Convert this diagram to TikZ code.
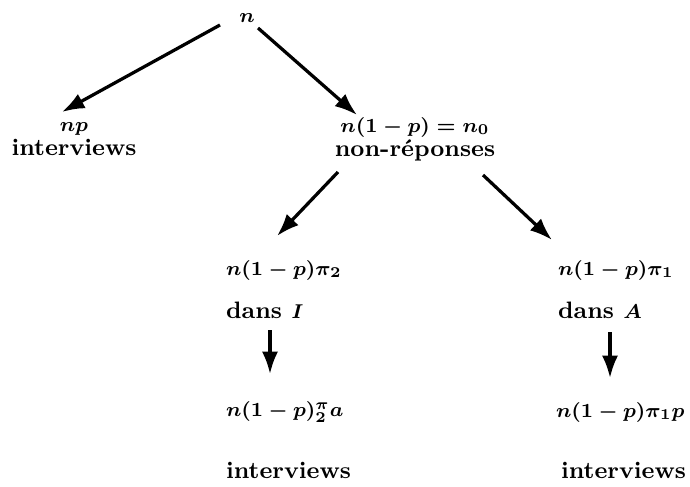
\documentclass[tikz,border=0pt]{standalone}
\usepackage{fontspec}
\setmainfont{Latin Modern Roman}
\usetikzlibrary{arrows.meta}
\newcommand{\fm}[1]{{\fontsize{8.1}{9.6}\selectfont\boldmath$#1$}}
\begin{document}
\begin{tikzpicture}[x=0.4pt, y=-0.4pt, thick,
	lbl/.style = {inner sep=0pt, font=\fontsize{9.5}{9.6}\selectfont\bfseries},
	left/.style = {lbl, anchor=west},
	arr/.style = {line width=1.3pt, -{Latex[length=9pt,width=6.5pt]}}]

			\useasboundingbox (0,0) rectangle (690,486);

			\node[lbl] (n) at (247,18) {\fm{n}};
			\node[lbl, align=center] (np) at (74,139) {\fm{np}\\interviews};
			\node[lbl, align=center] (nr) at (415,139) {\fm{n(1-p)=n_0}\\non-réponses};

			\node[left] (p2) at (225,270) {\fm{n(1-p)\pi_2}};
			\node[left] (dI) at (225,310) {dans \fm{I}};
			\node[left] (a2) at (225,412) {\fm{n(1-p)^\pi_2 a}};
			\node[left] (i2) at (225,470) {interviews};

			\node[left] (p1) at (557,270) {\fm{n(1-p)\pi_1}};
			\node[left] (dA) at (557,310) {dans \fm{A}};
			\node[left] (p1p) at (555,412) {\fm{n(1-p)\pi_1 p}};
			\node[left] (i1) at (560,470) {interviews};

			\draw[arr] ([shift={(-27,7)}]n.center) -- ([shift={(-12,-27)}]np.center);
			\draw[arr] ([shift={(11,10)}]n.center) -- ([shift={(-58,-24)}]nr.center);
			\draw[arr] ([shift={(-77,33)}]nr.center) -- ([shift={(52,-34)}]p2.west);
			\draw[arr] ([shift={(68,36)}]nr.center) -- ([shift={(-5,-30)}]p1.west);
			\draw[arr] ([shift={(45,20)}]dI.west) -- ([shift={(45,-38)}]a2.west);
			\draw[arr] ([shift={(53,22)}]dA.west) -- ([shift={(55,-34)}]p1p.west);
		\end{tikzpicture}
\end{document}
